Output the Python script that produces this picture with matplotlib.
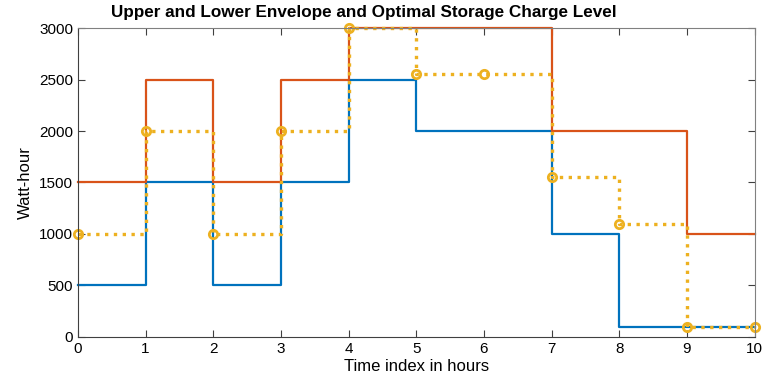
import numpy as np
import matplotlib.pyplot as plt

plt.rcParams['font.family'] = ['Liberation Sans', 'DejaVu Sans']

# datos
horas = [0, 1, 2, 3, 4, 5, 6, 7, 8, 9, 10]
envolvente_inf = [500, 1500, 500, 1500, 2500, 2000, 2000, 1000, 100, 100, 100]
envolvente_sup = [1500, 2500, 1500, 2500, 3000, 3000, 3000, 2000, 2000, 1000, 1000]
carga_optima = [1000, 2000, 1000, 2000, 3000, 2550, 2550, 1550, 1100, 100, 100]

fig = plt.figure(figsize=(7.63, 3.85), dpi=100)
ax = fig.add_axes([0.102, 0.125, 0.887, 0.802])

ax.step(horas, envolvente_inf, where="post", color="#0072BD", linewidth=1.6,
        clip_on=False)
ax.step(horas, envolvente_sup, where="post", color="#D95319", linewidth=1.6,
        clip_on=False)
ax.step(horas, carga_optima, where="post", color="#EDB120", linewidth=2.4,
        linestyle=":", clip_on=False)
ax.plot(horas, carga_optima, linestyle="none", marker="o", markersize=6,
        markerfacecolor="none", markeredgecolor="#EDB120", markeredgewidth=2,
        clip_on=False)

ax.set_xlim(0, 10)
ax.set_ylim(0, 3000)
ax.set_xticks(range(0, 11))
ax.set_yticks(range(0, 3001, 500))
ax.tick_params(direction="in", top=True, right=True, labelsize=11,
               color="#404040", length=5)
for s in ax.spines.values():
    s.set_color("#808080")
ax.spines["bottom"].set_color("#404040")
ax.spines["left"].set_color("#404040")

# título desplazado a la izquierda como en el original
fig.text(0.477, 0.968, "Upper and Lower Envelope and Optimal Storage Charge Level",
         fontsize=12.3, fontweight="bold", ha="center", va="center")
ax.set_xlabel("Time index in hours", fontsize=12, labelpad=2)
ax.set_ylabel("Watt-hour", fontsize=12, labelpad=4)

fig.savefig("out.png", dpi=100)
